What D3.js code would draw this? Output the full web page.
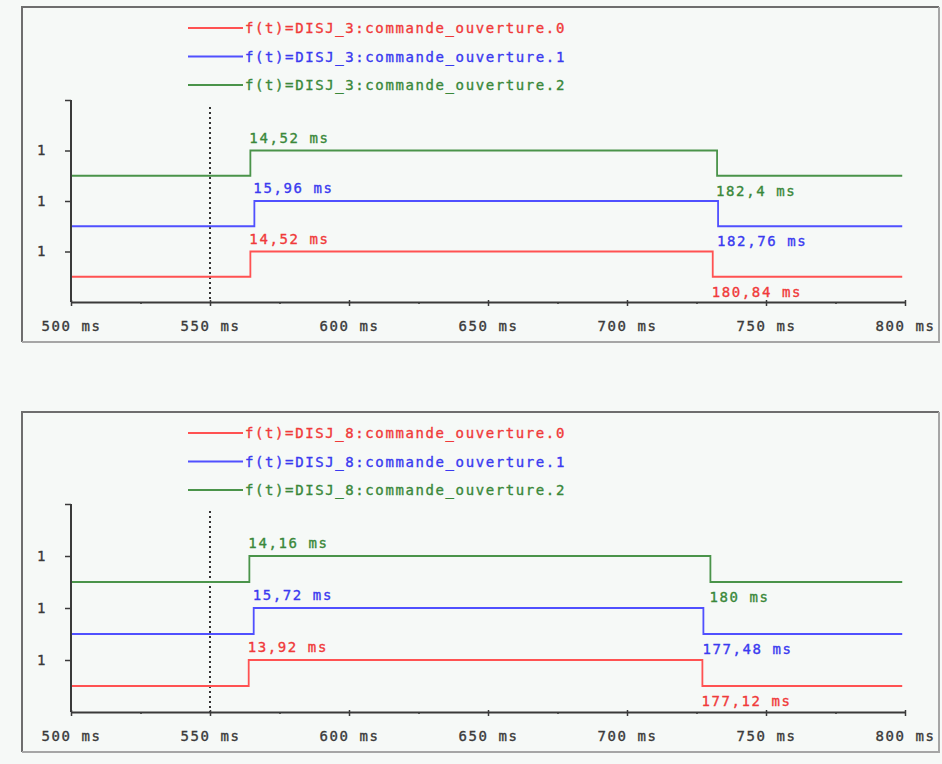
<!DOCTYPE html>
<html>
<head>
<meta charset="utf-8">
<script src="https://cdn.jsdelivr.net/npm/d3@7"></script>
<style>
  html, body { margin: 0; padding: 0; background: #f6f9f7; }
  svg { display: block; }
  text { font-family: "DejaVu Sans Mono", "Liberation Mono", monospace; font-size: 14px; letter-spacing: 1.6px; stroke-width: 0.35px; }
</style>
</head>
<body>
<svg id="chart" width="942" height="764"></svg>
<script>
// Time axis (ms)
const timeStart = 500;
const timeEnd = 800;
const signalEnd = 799;
const cursorTime = 550;
const majorTicks = [500, 550, 600, 650, 700, 750, 800];
const majorTickLabels = ["500 ms", "550 ms", "600 ms", "650 ms", "700 ms", "750 ms", "800 ms"];
const minorTicks = [525, 575, 625, 675, 725, 775];

// Level axis: each channel sits on its own band, labelled by its high state
const levelTicks = [2, 4, 6, 8];
const levelTickLabels = ["1", "1", "1", ""];

// Channel colours (.0, .1, .2)
const lineColors = ["#ff5252", "#5050ff", "#4a944a"];
const textColors = ["#f03a3a", "#3a3af0", "#3a883a"];

// DISJ_3 : commande_ouverture
const names3 = ["f(t)=DISJ_3:commande_ouverture.0", "f(t)=DISJ_3:commande_ouverture.1", "f(t)=DISJ_3:commande_ouverture.2"];
const rise3 = [14.52, 15.96, 14.52];   // delay after cursor, ms
const fall3 = [180.84, 182.76, 182.4];

// DISJ_8 : commande_ouverture
const names8 = ["f(t)=DISJ_8:commande_ouverture.0", "f(t)=DISJ_8:commande_ouverture.1", "f(t)=DISJ_8:commande_ouverture.2"];
const rise8 = [13.92, 15.72, 14.16];
const fall8 = [177.12, 177.48, 180];

const svg = d3.select("#chart");
const fmtMs = v => String(v).replace(".", ",") + " ms";

function drawPanel(cfg) {
  const g = svg.append("g");

  // sunken frame
  g.append("path").attr("d", `M${cfg.left},${cfg.bottom} V${cfg.top} H${cfg.right}`)
    .attr("fill", "none").attr("stroke", "#6e6e6e").attr("stroke-width", 2);
  g.append("path").attr("d", `M${cfg.left},${cfg.bottom} H${cfg.right} V${cfg.top}`)
    .attr("fill", "none").attr("stroke", "#a6a6a6").attr("stroke-width", 2);

  const x = d3.scaleLinear().domain([timeStart, timeEnd]).range([71, 905]);
  const y = d3.scaleLinear().domain([0, 8]).range([cfg.axisY, cfg.plotTop]);

  // legend
  cfg.names.forEach((name, i) => {
    const ly = cfg.top + 21 + i * 28.5;
    g.append("line").attr("x1", 188).attr("x2", 243).attr("y1", ly).attr("y2", ly)
      .attr("stroke", lineColors[i]).attr("stroke-width", 1.8);
    g.append("text").attr("x", 245).attr("y", ly + 5)
      .attr("fill", textColors[i]).attr("stroke", textColors[i]).text(name);
  });

  // cursor
  g.append("line").attr("x1", x(cursorTime)).attr("x2", x(cursorTime))
    .attr("y1", cfg.plotTop + 7).attr("y2", cfg.axisY)
    .attr("stroke", "#333").attr("stroke-width", 2).attr("stroke-dasharray", "2,3");

  // signals
  const line = d3.line().x(d => x(d[0])).y(d => y(d[1])).curve(d3.curveStepAfter);
  cfg.names.forEach((name, i) => {
    const lo = 2 * i + 1, hi = 2 * i + 2;
    const tRise = cursorTime + cfg.rise[i];
    const tFall = cursorTime + cfg.fall[i];
    const pts = [[timeStart, lo], [tRise, hi], [tFall, lo], [signalEnd, lo]];
    g.append("path").attr("d", line(pts)).attr("fill", "none")
      .attr("stroke", lineColors[i]).attr("stroke-width", 1.8);
    g.append("text").attr("x", x(tRise) - 1).attr("y", y(hi) - 8)
      .attr("fill", textColors[i]).attr("stroke", textColors[i]).text(fmtMs(cfg.rise[i]));
    g.append("text").attr("x", x(tFall) - 1).attr("y", y(lo) + 20)
      .attr("fill", textColors[i]).attr("stroke", textColors[i]).text(fmtMs(cfg.fall[i]));
  });

  // level axis
  const yAxis = d3.axisLeft(y).tickValues(levelTicks)
    .tickFormat((d, i) => levelTickLabels[i]).tickSizeInner(6).tickSizeOuter(0).tickPadding(18);
  const ya = g.append("g").attr("transform", `translate(${x(timeStart)},0)`).call(yAxis);
  ya.select(".domain").attr("d", `M0,${y(8)}V${cfg.axisY}`);

  // time axis, minor ticks then major
  const xa2 = g.append("g").attr("transform", `translate(0,${cfg.axisY})`)
    .call(d3.axisBottom(x).tickValues(minorTicks).tickFormat("").tickSizeInner(2).tickSizeOuter(0));
  xa2.select(".domain").remove();
  const xa = g.append("g").attr("transform", `translate(0,${cfg.axisY})`)
    .call(d3.axisBottom(x).tickValues(majorTicks).tickFormat((d, i) => majorTickLabels[i])
      .tickSizeInner(4).tickSizeOuter(0).tickPadding(15));
  xa.selectAll(".tick line").attr("y1", -2);

  [ya, xa, xa2].forEach(a => {
    a.attr("font-family", null).attr("font-size", null);
    a.selectAll("path, line").attr("stroke", "#3a3a3a").attr("stroke-width", 1.5);
    a.selectAll("text").attr("fill", "#3a3a3a").attr("stroke", "#3a3a3a");
  });
  ya.select(".domain").attr("stroke-width", 2);
  xa.select(".domain").attr("stroke-width", 2);
}

drawPanel({ left: 22, right: 939, top: 7, bottom: 342, plotTop: 100, axisY: 302, names: names3, rise: rise3, fall: fall3 });
drawPanel({ left: 22, right: 939, top: 412, bottom: 752, plotTop: 504, axisY: 712, names: names8, rise: rise8, fall: fall8 });
</script>
</body>
</html>
